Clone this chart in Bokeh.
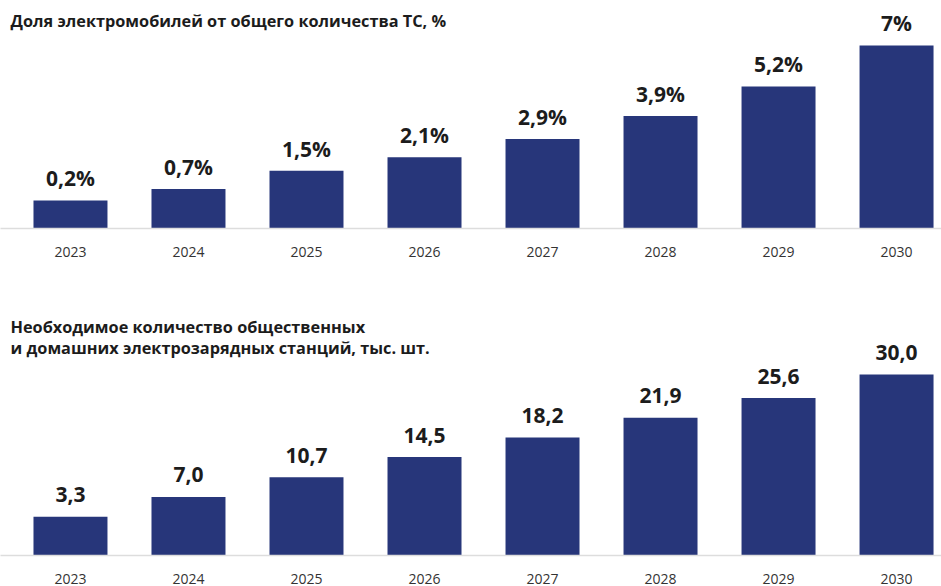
from bokeh.plotting import figure
from bokeh.layouts import column
from bokeh.models import ColumnDataSource, FixedTicker, Label, Range1d
from bokeh.embed import file_html
from bokeh.resources import INLINE
from bokeh.core.properties import value

years = ["2023", "2024", "2025", "2026", "2027", "2028", "2029", "2030"]
ev_share = [0.2, 0.7, 1.5, 2.1, 2.9, 3.9, 5.2, 7.0]
ev_share_labels = ["0,2%", "0,7%", "1,5%", "2,1%", "2,9%", "3,9%", "5,2%", "7%"]
chargers = [3.3, 7.0, 10.7, 14.5, 18.2, 21.9, 25.6, 30.0]
chargers_labels = ["3,3", "7,0", "10,7", "14,5", "18,2", "21,9", "25,6", "30,0"]

title_top = ["Доля электромобилей от общего количества ТС, %"]
title_bottom = ["Необходимое количество общественных",
                "и домашних электрозарядных станций, тыс. шт."]

BAR = "#27367a"
FONT = "Open Sans"
W = 941


def panel(vals, labels, titles, height, border_bottom, base, px_per_unit, title_offsets):
    frame_h = height - border_bottom
    y_end = base + frame_h / px_per_unit
    p = figure(width=W, height=height, output_backend="svg", toolbar_location=None,
               x_range=Range1d(-0.593, 7.381), y_range=Range1d(base, y_end),
               min_border_left=0, min_border_right=0, min_border_top=0,
               min_border_bottom=border_bottom)
    src = ColumnDataSource(dict(x=list(range(len(vals))), top=vals, lab=labels))
    p.vbar(x="x", top="top", bottom=base, width=0.627, source=src,
           fill_color=BAR, line_color=None)
    p.text(x="x", y="top", text="lab", source=src, text_align="center",
           text_baseline="alphabetic", y_offset=-22, text_font=value(FONT),
           text_font_style="bold", text_font_size="21px", text_color="#1c1c1c")
    for t, off in zip(titles, title_offsets):
        p.add_layout(Label(x=-0.508, y=y_end - off / px_per_unit, text=t,
                           text_align="left", text_baseline="alphabetic",
                           text_font=FONT, text_font_style="bold",
                           text_font_size="16.3px", text_color="#1c1c1c"))
    p.yaxis.visible = False
    p.xgrid.visible = False
    p.ygrid.visible = False
    p.outline_line_color = None
    ax = p.xaxis[0]
    ax.ticker = FixedTicker(ticks=list(range(len(years))))
    ax.major_label_overrides = {i: y for i, y in enumerate(years)}
    ax.major_tick_line_color = None
    ax.minor_tick_line_color = None
    ax.major_tick_out = 0
    ax.major_tick_in = 0
    ax.major_label_standoff = 18
    ax.axis_line_color = "#dddddd"
    ax.axis_line_width = 1.5
    ax.major_label_text_font = FONT
    ax.major_label_text_font_size = "14px"
    ax.major_label_text_color = "#333333"
    return p


p1 = panel(ev_share, ev_share_labels, title_top, 272, 44, -1.03, 22.8, [20])
p2 = panel(chargers, chargers_labels, title_bottom, 314, 31, -4.0, 5.32, [54, 75])

layout = column(p1, p2, spacing=0)
open("out.html", "w").write(file_html(layout, INLINE))
